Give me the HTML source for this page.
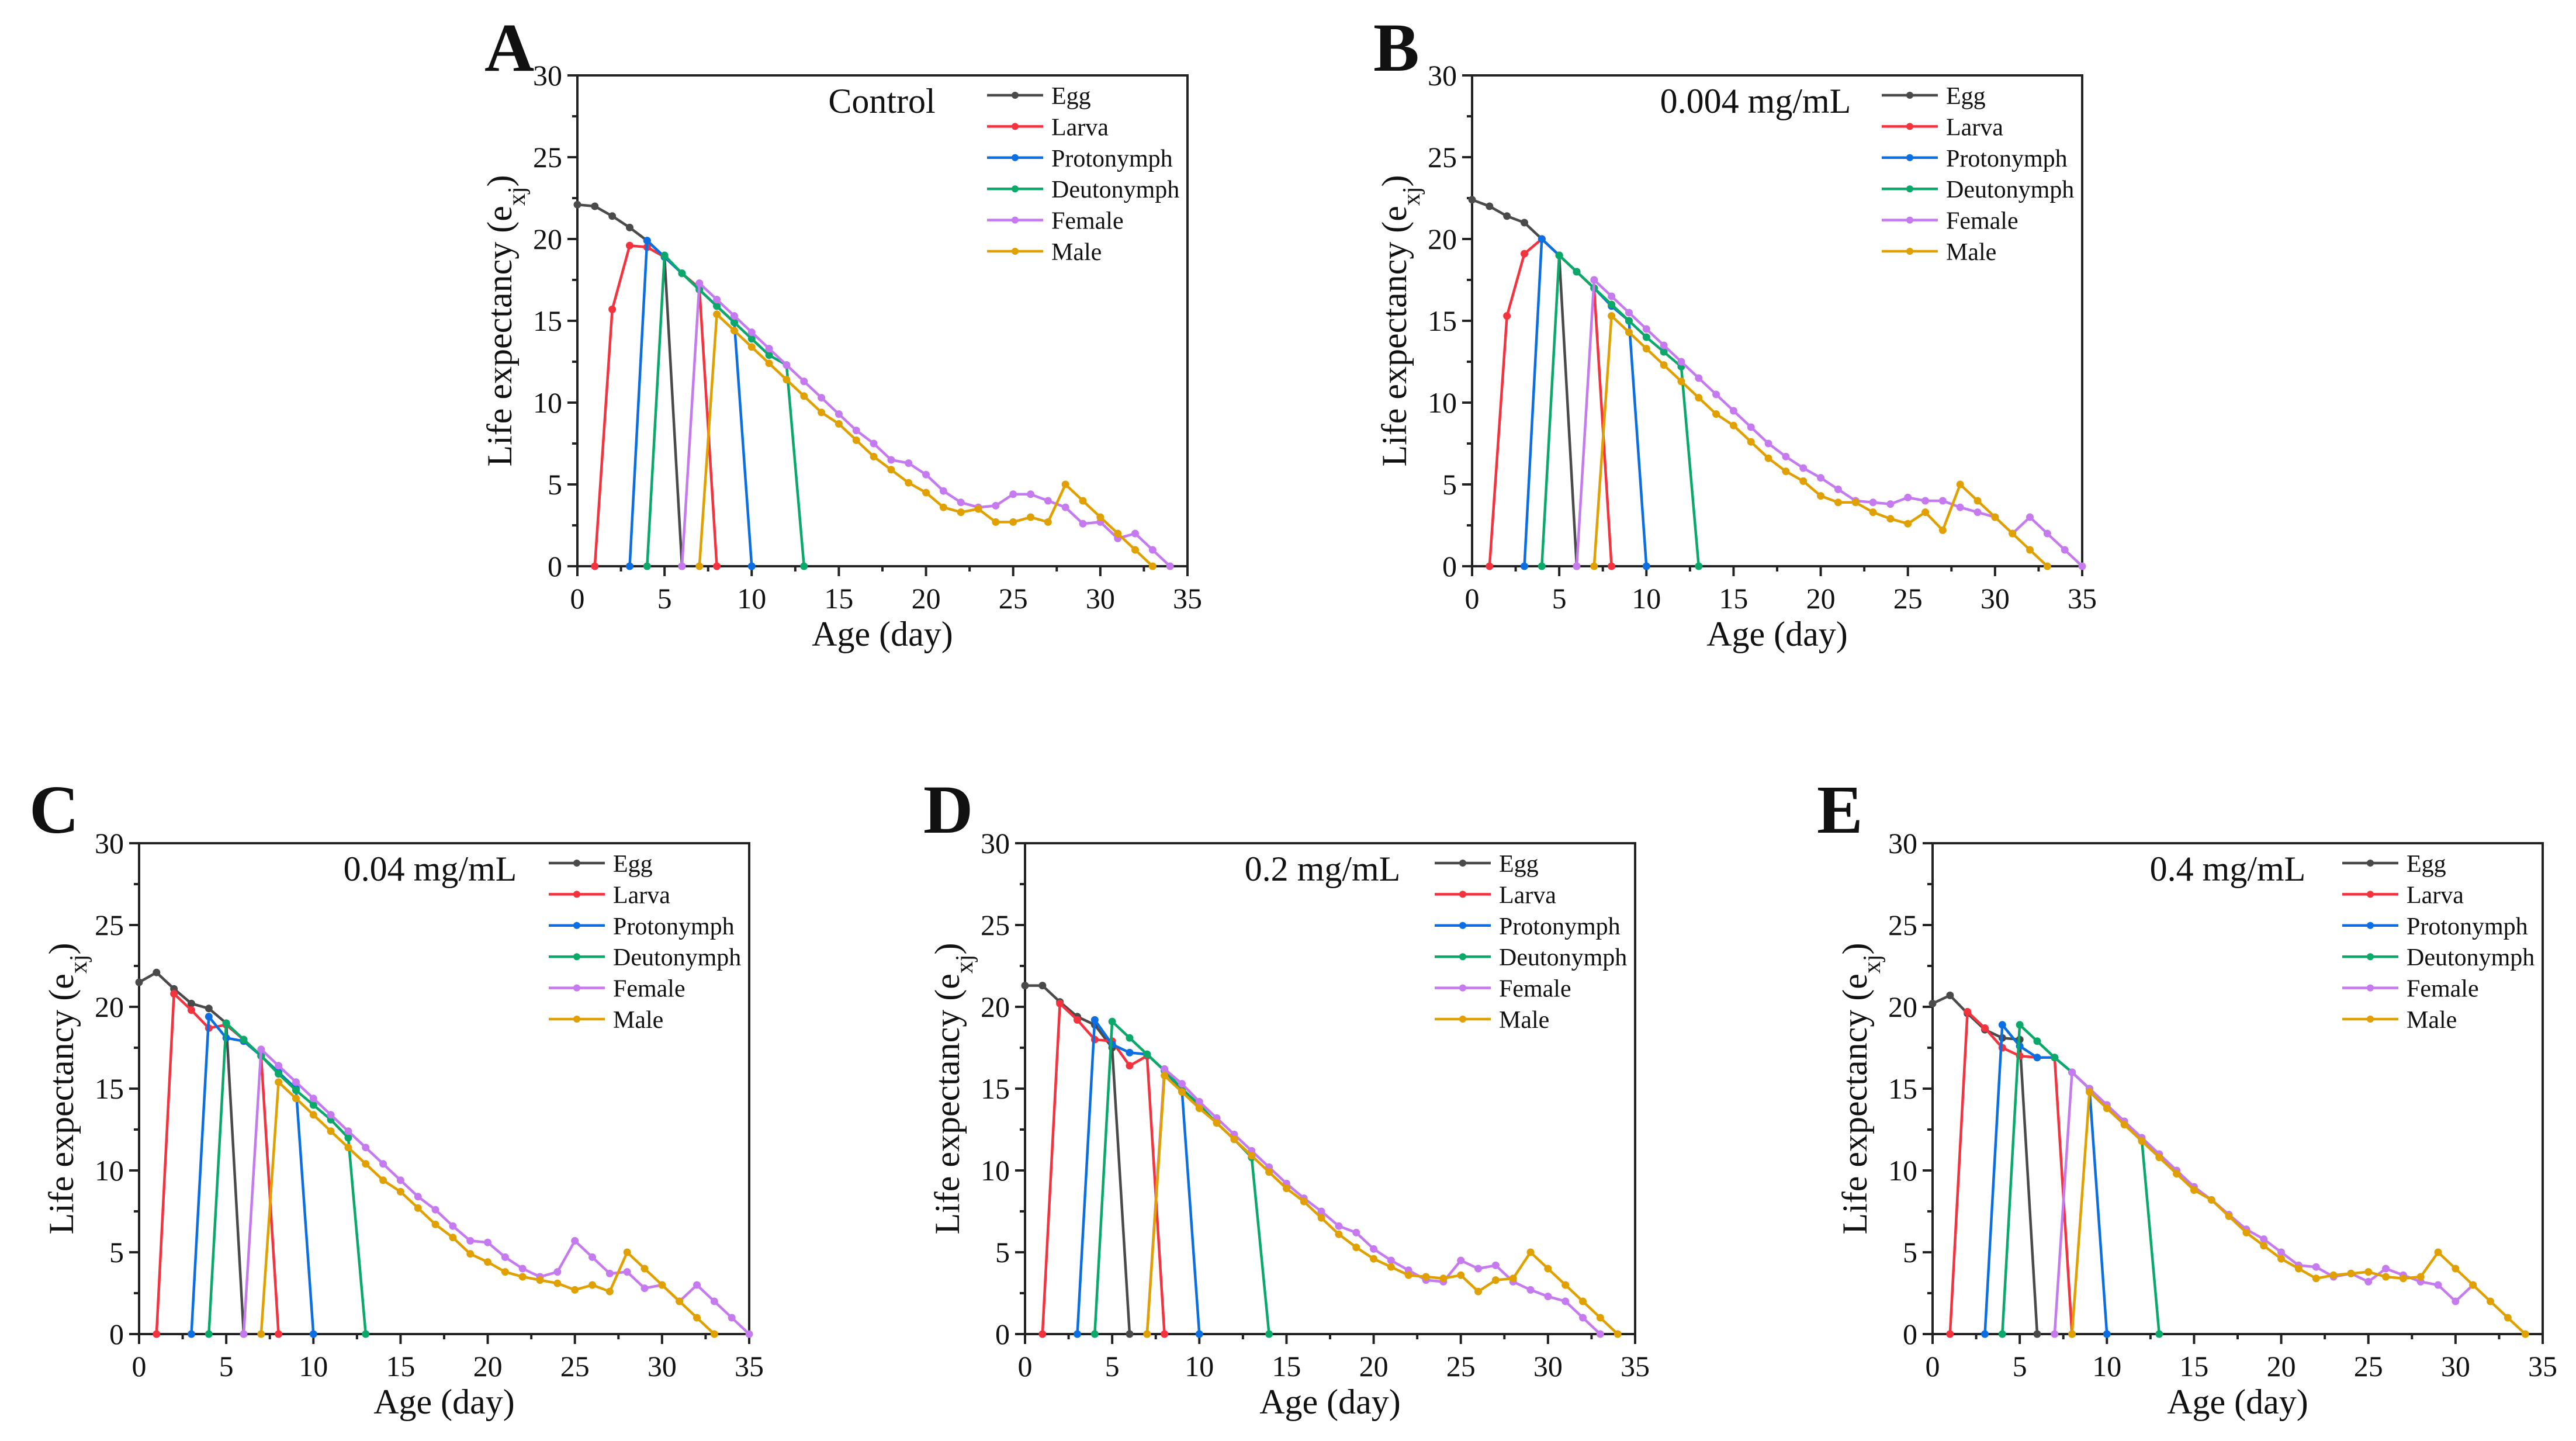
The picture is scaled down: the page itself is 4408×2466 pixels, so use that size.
<!DOCTYPE html>
<html><head><meta charset="utf-8">
<style>
html,body{margin:0;padding:0;background:#fff;}
svg{display:block;}
text{font-family:"Liberation Serif",serif;fill:#111;}
</style></head>
<body>
<svg id="fig" width="4408" height="2466" viewBox="0 0 4408 2466" xmlns="http://www.w3.org/2000/svg"></svg>
<script>
// ---- Data (age in days, life expectancy e_xj) ----
const stageNames = ["Egg","Larva","Protonymph","Deutonymph","Female","Male"];
const xTicks = [0,5,10,15,20,25,30,35];
const yTicks = [0,5,10,15,20,25,30];

// Panel A: Control
const aStart = [0,1,3,4,6,7];
const aEgg = [22.1,22.0,21.4,20.7,19.9,18.9,0];
const aLarva = [0,15.7,19.6,19.5,18.9,17.9,17.0,0];
const aProto = [0,19.9,18.9,17.9,16.9,15.9,14.9,0];
const aDeuto = [0,19.0,17.9,16.9,15.9,14.9,13.9,12.9,12.3,0];
const aFemale = [0,17.3,16.3,15.3,14.3,13.3,12.3,11.3,10.3,9.3,8.3,7.5,6.5,6.3,5.6,4.6,3.9,3.6,3.7,4.4,4.4,4.0,3.6,2.6,2.7,1.7,2.0,1.0,0];
const aMale = [0,15.4,14.4,13.4,12.4,11.4,10.4,9.4,8.7,7.7,6.7,5.9,5.1,4.5,3.6,3.3,3.5,2.7,2.7,3.0,2.7,5.0,4.0,3.0,2.0,1.0,0];

// Panel B: 0.004 mg/mL
const bStart = [0,1,3,4,6,7];
const bEgg = [22.4,22.0,21.4,21.0,20.0,19.0,0];
const bLarva = [0,15.3,19.1,20.0,19.0,18.0,17.0,0];
const bProto = [0,20.0,19.0,18.0,17.0,15.9,15.0,0];
const bDeuto = [0,19.0,18.0,17.0,16.0,15.0,14.0,13.1,12.2,0];
const bFemale = [0,17.5,16.5,15.5,14.5,13.5,12.5,11.5,10.5,9.5,8.5,7.5,6.7,6.0,5.4,4.7,4.0,3.9,3.8,4.2,4.0,4.0,3.6,3.3,3.0,2.0,3.0,2.0,1.0,0];
const bMale = [0,15.3,14.3,13.3,12.3,11.3,10.3,9.3,8.6,7.6,6.6,5.8,5.2,4.3,3.9,3.9,3.3,2.9,2.6,3.3,2.2,5.0,4.0,3.0,2.0,1.0,0];

// Panel C: 0.04 mg/mL
const cStart = [0,1,3,4,6,7];
const cEgg = [21.5,22.1,21.1,20.2,19.9,19.0,0];
const cLarva = [0,20.8,19.8,18.7,18.9,18.0,17.0,0];
const cProto = [0,19.4,18.1,17.9,17.0,16.0,15.0,0];
const cDeuto = [0,19.0,18.0,17.0,15.9,14.9,14.0,13.1,12.0,0];
const cFemale = [0,17.4,16.4,15.4,14.4,13.4,12.4,11.4,10.4,9.4,8.4,7.6,6.6,5.7,5.6,4.7,4.0,3.5,3.8,5.7,4.7,3.7,3.8,2.8,3.0,2.0,3.0,2.0,1.0,0];
const cMale = [0,15.4,14.4,13.4,12.4,11.4,10.4,9.4,8.7,7.7,6.7,5.9,4.9,4.4,3.8,3.5,3.3,3.1,2.7,3.0,2.6,5.0,4.0,3.0,2.0,1.0,0];

// Panel D: 0.2 mg/mL
const dStart = [0,1,3,4,7,7];
const dEgg = [21.3,21.3,20.3,19.4,18.9,17.5,0];
const dLarva = [0,20.2,19.2,18.0,17.9,16.4,17.0,0];
const dProto = [0,19.2,17.7,17.2,17.1,16.1,14.9,0];
const dDeuto = [0,19.1,18.1,17.1,16.1,15.0,14.0,12.9,11.9,10.8,0];
const dFemale = [0,16.2,15.3,14.2,13.2,12.2,11.2,10.2,9.2,8.3,7.5,6.6,6.2,5.2,4.5,3.9,3.3,3.2,4.5,4.0,4.2,3.2,2.7,2.3,2.0,1.0,0];
const dMale = [0,15.8,14.8,13.8,12.9,11.9,10.9,9.9,8.9,8.1,7.1,6.1,5.3,4.6,4.1,3.6,3.5,3.4,3.6,2.6,3.3,3.4,5.0,4.0,3.0,2.0,1.0,0];

// Panel E: 0.4 mg/mL
const eStart = [0,1,3,4,7,8];
const eEgg = [20.2,20.7,19.6,18.6,18.1,18.0,0];
const eLarva = [0,19.7,18.7,17.5,17.0,16.9,16.9,0];
const eProto = [0,18.9,17.6,16.9,16.9,16.0,15.0,0];
const eDeuto = [0,18.9,17.9,16.9,16.0,15.0,14.0,13.0,11.9,0];
const eFemale = [0,16.0,15.0,14.0,13.0,12.0,11.0,10.0,9.0,8.2,7.3,6.4,5.8,5.0,4.2,4.1,3.5,3.7,3.2,4.0,3.6,3.2,3.0,2.0,3.0];
const eMale = [0,14.8,13.8,12.8,11.8,10.8,9.8,8.8,8.2,7.2,6.2,5.4,4.6,4.0,3.4,3.6,3.7,3.8,3.5,3.4,3.5,5.0,4.0,3.0,2.0,1.0,0];

const colors = ["#4a4a4a","#f5333f","#0b6fe3","#0aa96a","#c57bef","#e0a000"];
const NS = "http://www.w3.org/2000/svg";
const svg = document.getElementById("fig");

const panels = [
  {id:"a", letter:"A", cond:"Control", left:988, top:129, start:aStart, series:[aEgg,aLarva,aProto,aDeuto,aFemale,aMale], condX:521, letterX:829, letterY:121},
  {id:"b", letter:"B", cond:"0.004 mg/mL", left:2519, top:129, start:bStart, series:[bEgg,bLarva,bProto,bDeuto,bFemale,bMale], condX:485, letterX:2350, letterY:121},
  {id:"c", letter:"C", cond:"0.04 mg/mL", left:238, top:1443, start:cStart, series:[cEgg,cLarva,cProto,cDeuto,cFemale,cMale], condX:498, letterX:50, letterY:1425},
  {id:"d", letter:"D", cond:"0.2 mg/mL", left:1754, top:1443, start:dStart, series:[dEgg,dLarva,dProto,dDeuto,dFemale,dMale], condX:509, letterX:1580, letterY:1425},
  {id:"e", letter:"E", cond:"0.4 mg/mL", left:3307, top:1443, start:eStart, series:[eEgg,eLarva,eProto,eDeuto,eFemale,eMale], condX:505, letterX:3109, letterY:1425}
];
const W = 1044, H = 840;

function mk(tag, attrs, parent){
  const el = document.createElementNS(NS, tag);
  for (const k in attrs) el.setAttribute(k, attrs[k]);
  (parent||svg).appendChild(el);
  return el;
}

panels.forEach(p => {
  const g = mk("g", {});
  
  
  const xs = v => p.left + v / 35 * W;
  const ys = v => p.top + H - v / 30 * H;
  const bottom = p.top + H;

  const lt = mk("text", {x:p.letterX, y:p.letterY, "font-size":118, "font-weight":"bold"}, g);
  lt.textContent = p.letter;
  
  

  const fr = mk("rect", {x:p.left, y:p.top, width:W, height:H, fill:"none", stroke:"#222", "stroke-width":4}, g);
  
  

  for (let v = 0; v <= 35; v += 2.5) {
    const major = v % 5 === 0;
    const t = mk("line", {x1:xs(v), x2:xs(v), y1:bottom, y2:bottom + (major?17:9), stroke:"#222", "stroke-width":4}, g);
    
    
  }
  xTicks.forEach(v => {
    const t = mk("text", {x:xs(v), y:bottom + 72, "font-size":50, "text-anchor":"middle"}, g);
    t.textContent = v;
    
    
  });
  for (let v = 0; v <= 30; v += 2.5) {
    const major = v % 5 === 0;
    const t = mk("line", {x1:p.left, x2:p.left - (major?17:9), y1:ys(v), y2:ys(v), stroke:"#222", "stroke-width":4}, g);
    
    
  }
  yTicks.forEach(v => {
    const t = mk("text", {x:p.left - 26, y:ys(v) + 17, "font-size":50, "text-anchor":"end"}, g);
    t.textContent = v;
    
    
  });
  const xt = mk("text", {x:p.left + W/2, y:bottom + 136, "font-size":60, "text-anchor":"middle"}, g);
  xt.textContent = "Age (day)";
  
  
  const yt = mk("text", {x:0, y:0, "font-size":60, "text-anchor":"middle", transform:`translate(${p.left - 113},${p.top + H/2}) rotate(-90)`}, g);
  yt.innerHTML = 'Life expectancy (e<tspan baseline-shift="sub" font-size="42">xj</tspan>)';
  
  

  const ct = mk("text", {x:p.left + p.condX, y:p.top + 64, "font-size":60, "text-anchor":"middle"}, g);
  ct.textContent = p.cond;
  
  

  p.series.forEach((vals, si) => {
    const s0 = p.start[si];
    const sg = mk("g", {}, g);
    
    
    const pts = vals.map((v, i) => xs(s0 + i).toFixed(1) + "," + ys(v).toFixed(1)).join(" ");
    const pl = mk("polyline", {points:pts, fill:"none", stroke:colors[si], "stroke-width":4.5, "stroke-linejoin":"round"}, sg);
    
    
    vals.forEach((v, i) => {
      const c = mk("circle", {cx:xs(s0 + i), cy:ys(v), r:6.5, fill:colors[si]}, sg);
      
      
    });
  });

  const lg = mk("g", {}, g);
  
  
  stageNames.forEach((n, i) => {
    const y = p.top + 34 + i * 53.4;
    const e = mk("g", {}, lg);
    
    
    mk("line", {x1:p.left + 701, x2:p.left + 797, y1:y, y2:y, stroke:colors[i], "stroke-width":4.5}, e);
    mk("circle", {cx:p.left + 749, cy:y, r:6, fill:colors[i]}, e);
    const t = mk("text", {x:p.left + 811, y:y + 15, "font-size":42}, e);
    t.textContent = n;
  });
});
</script>
</body></html>
